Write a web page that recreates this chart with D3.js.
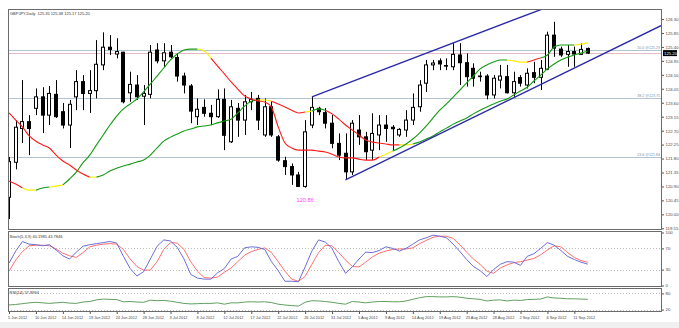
<!DOCTYPE html>
<html>
<head>
<meta charset="utf-8">
<script src="https://cdn.jsdelivr.net/npm/d3@7"></script>
<style>
html,body{margin:0;padding:0;background:#ffffff;}
svg{display:block;font-family:"Liberation Sans",Arial,sans-serif;}
</style>
</head>
<body>
<svg id="chart" width="679" height="328"></svg>
<script>
// GBPJPY daily candles, 5 Jun 2012 .. 13 Sep 2012 (Sun-Fri sessions)
const opens = [120.55,121.68,122.77,122.99,123.42,123.79,123.20,123.87,123.31,122.88,
  123.79,124.28,123.90,123.99,124.82,125.39,125.17,125.23,123.92,124.17,
  123.81,123.87,125.30,124.95,125.23,125.06,124.46,124.14,123.15,123.45,
  123.26,123.15,123.71,122.34,123.42,123.04,123.63,123.74,122.56,123.47,
  122.50,121.73,121.54,121.27,120.90,122.88,123.42,123.28,122.94,122.29,
  121.97,121.37,122.72,122.50,122.07,122.56,122.88,122.81,122.56,122.72,
  123.04,123.47,124.23,124.82,124.95,124.80,124.76,125.14,124.89,124.71,
  124.46,124.46,123.85,124.33,124.44,123.92,124.41,124.17,124.57,124.42,
  124.68,125.78,125.33,125.16,125.25,125.16,125.35];
const highs = [121.85,123.04,124.33,123.20,124.06,124.10,124.14,124.33,123.59,123.69,
  124.65,124.49,124.65,125.62,125.87,125.78,125.68,125.24,124.60,124.49,
  124.17,125.46,125.52,125.52,125.46,125.19,124.57,124.20,123.74,123.71,
  123.53,124.03,124.06,123.69,123.59,123.85,123.95,123.85,123.74,123.65,
  122.56,121.86,121.64,121.37,123.04,123.79,123.47,123.43,123.20,122.61,
  122.61,123.04,123.20,122.66,123.26,123.20,123.20,122.88,122.78,123.36,
  123.90,124.33,124.98,124.98,125.03,125.03,125.52,125.52,125.19,124.87,
  124.60,124.52,124.49,124.82,124.82,124.60,124.49,124.71,124.92,124.98,
  125.89,126.21,125.41,125.46,125.41,125.52,125.38];
const lows = [119.85,121.45,122.30,121.91,123.20,122.62,122.88,123.11,122.77,122.14,
  123.36,123.36,123.27,123.74,124.65,125.14,125.03,123.58,123.63,123.69,
  122.88,123.74,124.87,124.76,125.03,124.28,123.90,122.94,122.88,123.15,
  122.88,123.11,122.07,122.30,122.50,122.56,123.36,122.72,122.50,122.50,
  121.70,121.27,120.95,120.88,120.86,122.78,123.20,122.77,122.13,121.75,
  121.11,121.27,122.24,121.75,121.75,122.07,122.34,122.07,122.50,122.50,
  122.88,123.31,123.95,124.65,124.65,124.65,124.65,124.17,124.12,124.12,
  124.28,123.71,123.74,124.06,123.90,123.79,124.12,124.06,124.23,124.01,
  124.65,125.08,125.08,124.76,124.76,125.14,125.17];
const closes = [121.70,122.81,122.99,122.77,123.79,123.20,123.90,123.15,122.88,123.55,
  124.28,123.90,123.99,124.84,125.39,125.32,125.25,123.63,124.19,123.79,
  123.90,125.23,124.95,125.21,125.08,124.46,124.17,123.33,123.39,123.26,
  123.15,123.71,122.55,123.47,123.04,123.63,123.71,123.04,123.47,122.56,
  121.75,121.54,121.27,120.90,122.66,123.45,123.31,122.94,122.29,121.91,
  121.37,122.94,122.50,122.02,122.61,122.88,122.77,122.76,122.74,123.04,
  123.45,124.17,124.82,124.88,124.85,124.78,125.16,124.89,124.44,124.39,
  124.44,123.85,124.39,124.46,123.92,124.28,124.23,124.55,124.42,124.71,
  125.78,125.36,125.14,125.25,125.17,125.32,125.20];

// fast and slow trend averages, with their state per bar (r = falling, y = flat, g = rising)
const fastMA = [121.07,120.98,120.85,120.78,120.78,120.85,120.88,120.91,120.95,121.14,
  121.36,121.67,121.91,122.24,122.56,122.88,123.17,123.40,123.56,123.72,
  123.95,124.20,124.46,124.72,124.98,125.17,125.30,125.33,125.33,125.27,
  125.04,124.78,124.53,124.27,124.04,123.82,123.72,123.66,123.62,123.45,
  122.82,122.30,122.14,122.07,122.07,122.07,122.04,122.01,121.94,121.85,
  121.82,121.82,121.78,121.75,121.75,121.85,121.94,122.04,122.14,122.27,
  122.43,122.62,122.85,123.11,123.36,123.56,123.78,124.01,124.24,124.46,
  124.69,124.82,124.91,124.98,124.98,124.95,124.91,124.91,124.98,125.04,
  125.14,125.40,125.46,125.46,125.46,125.49,125.53];
const fastState = "rrryyggyyggggggggggggggggggggyyrrrrrrrrrrrrrrrrrrrrrrrrryygggggggggggggggggyyyrrgggggyygg";
const slowMA = [123.27,123.04,122.82,122.53,122.36,122.24,122.14,121.91,121.72,121.59,
  121.43,121.30,121.20,121.20,121.27,121.40,121.49,121.56,121.62,121.69,
  121.75,121.91,122.14,122.36,122.49,122.59,122.69,122.75,122.82,122.85,
  122.88,122.95,123.01,123.07,123.27,123.49,123.65,123.69,123.69,123.65,
  123.56,123.46,123.36,123.27,123.30,123.33,123.40,123.36,123.24,123.07,
  122.88,122.72,122.56,122.40,122.33,122.30,122.27,122.24,122.24,122.24,
  122.27,122.33,122.43,122.53,122.66,122.78,122.91,123.01,123.11,123.24,
  123.36,123.46,123.56,123.65,123.72,123.85,123.98,124.10,124.30,124.49,
  124.69,124.85,124.98,125.07,125.14,125.20,125.27];
const slowState = "rrrrrrrrrrrrryggggggggggggggggggggggggyyrrrrryggrrrrrrrrrrryyggggggggggggggggggggggggggg";

// Stochastic (5,3,3) main / signal and RSI(14)
const stochMain = [42,65,83,78,77,75,77,67,56,50,63,74,77,79,81,83,80,55,32,18,
  26,50,74,86,84,72,50,21,14,12,12,24,32,50,55,71,73,72,68,45,
  28,8,8,7,35,65,86,82,70,45,23,35,50,63,62,66,73,70,65,70,
  78,86,90,95,93,90,78,64,49,36,28,17,30,40,45,44,38,55,60,70,
  81,76,66,55,49,44,40.2];
const stochSignal = [27,48,64,75,76,76,75,69,61,56,53,62,73,76,78,79,78,68,50,36,
  29,29,45,68,81,80,68,45,27,15,14,16,25,33,45,57,64,68,71,62,
  45,27,12,8,17,40,62,76,75,62,48,36,35,44,54,61,65,68,69,69,
  71,79,85,91,93,93,89,77,63,50,40,27,23,33,39,43,45,48,51,58,
  67,75,73,62,53,47,43.8];
const rsi = [37,39,42,45,47,45,43,45,47,44,43,48,50,56,59,58,57,49,50,48,
  47,55,53,54,51,47,43,41,42,43,43,45,40,45,45,48,49,48,49,46,
  40,37,35,33,47,53,52,50,47,43,40,50,48,45,48,50,50,49,49,52,
  58,64,68,68,67,67,68,66,62,60,58,52,55,56,52,55,54,57,58,59,
  67,63,62,60,60,59,57.9];

// trendlines (bar index, price) and fibonacci levels
const lowerTrend = [{bar:50, price:121.11}, {bar:86, price:124.93}];
const upperTrend = [{bar:45, price:123.79}, {bar:86, price:127.18}];
const fibLevels = [{label:"50.0 @125.29", price:125.29},{label:"38.2 @123.75", price:123.75},{label:"23.6 @121.84", price:121.84}];
const lastPrice = 125.20;
const lowMark = {bar:44, price:120.86, label:"120.86"};

const priceTicks = [126.30,125.85,125.40,124.95,124.50,124.05,123.60,123.15,122.70,122.25,121.80,121.35,120.90,120.45,120.00,119.55];
const dateLabels = ["5 Jun 2012","10 Jun 2012","14 Jun 2012","19 Jun 2012","24 Jun 2012","28 Jun 2012",
  "3 Jul 2012","8 Jul 2012","12 Jul 2012","17 Jul 2012","22 Jul 2012","26 Jul 2012","31 Jul 2012",
  "5 Aug 2012","9 Aug 2012","14 Aug 2012","19 Aug 2012","23 Aug 2012","28 Aug 2012","2 Sep 2012",
  "6 Sep 2012","11 Sep 2012"];
const dateStep = 4;
const stochLevels = [70,30];
const stochTicks = [100,70,30,0];
const rsiLevels = [80,20];

const header = "GBPJPY,Daily  125.35 125.38 125.17 125.20";
const stochTitle = "Stoch(5,3,3) 40.1985 43.7846";
const rsiTitle = "RSI(14) 57.8994";

// ---- layout ----
const L = 8, R = 662;
const mainP = {top:9, bot:230};
const stP = {top:231, bot:287};
const rsiP = {top:288, bot:312};
const smallFont = 4.0;

const svg = d3.select("#chart");
const n = closes.length;

const x = d3.scaleLinear().domain([0, n-1]).range([9, 587.8]);
const y = d3.scaleLinear().domain([119.55, 126.30]).range([228.3, 19]);
const yS = d3.scaleLinear().domain([0, 100]).range([285.5, 232.5]);
const yR = d3.scaleLinear().domain([0, 100]).range([315, 288]);

svg.append("rect").attr("width",679).attr("height",328).attr("fill","#ffffff");
svg.append("rect").attr("x",0).attr("y",322).attr("width",679).attr("height",6).attr("fill","#f0f0f0");

const defs = svg.append("defs");
function clip(id, p){
  defs.append("clipPath").attr("id",id).append("rect")
    .attr("x",L).attr("y",p.top).attr("width",R-L).attr("height",p.bot-p.top);
}
clip("cMain", mainP); clip("cSt", stP); clip("cRsi", rsiP);

const gMain = svg.append("g").attr("clip-path","url(#cMain)");
const gSt = svg.append("g").attr("clip-path","url(#cSt)");
const gRsi = svg.append("g").attr("clip-path","url(#cRsi)");

// horizontal reference lines
gMain.selectAll("line.fib").data(fibLevels).join("line")
  .attr("x1",L).attr("x2",R)
  .attr("y1",d=>Math.round(y(d.price))+0.5).attr("y2",d=>Math.round(y(d.price))+0.5)
  .attr("stroke","#b3c3d3").attr("stroke-width",1);
gMain.append("line").attr("x1",L).attr("x2",R)
  .attr("y1",Math.round(y(lastPrice))+0.5).attr("y2",Math.round(y(lastPrice))+0.5)
  .attr("stroke","#e6b8c8").attr("stroke-width",1);
gMain.selectAll("text.fib").data(fibLevels).join("text")
  .attr("x",R-2).attr("y",d=>y(d.price)-1.2).attr("text-anchor","end")
  .attr("font-size",3.6).attr("fill","#7d8fa6").text(d=>d.label);

// candles
const cx = i => Math.round(x(i));
const candles = gMain.append("g");
d3.range(n).forEach(i=>{
  const up = closes[i] >= opens[i];
  const px = cx(i);
  candles.append("line").attr("x1",px+0.5).attr("x2",px+0.5)
    .attr("y1",y(highs[i])).attr("y2",y(lows[i])).attr("stroke","#000").attr("stroke-width",1);
  const top = y(Math.max(opens[i],closes[i])), bot = y(Math.min(opens[i],closes[i]));
  candles.append("rect").attr("x",px-1.5).attr("y",top).attr("width",3)
    .attr("height",Math.max(bot-top,0.6))
    .attr("fill",up?"#ffffff":"#000000").attr("stroke","#000").attr("stroke-width",1);
});

// colored averages: draw runs of equal state
const stateColor = {r:"#ff1a1a", y:"#ffee00", g:"#139a13"};
function drawColored(g, vals, states){
  let i = 1;
  while(i < vals.length){
    const s = states[i];
    let j = i;
    while(j+1 < vals.length && states[j+1] === s) j++;
    const pts = d3.range(i-1, j+1).map(k=>[x(k), y(vals[k])]);
    g.append("path").attr("d", d3.line().curve(d3.curveMonotoneX)(pts))
      .attr("fill","none").attr("stroke",stateColor[s]).attr("stroke-width",1.1);
    i = j+1;
  }
}
drawColored(gMain, slowMA, slowState);
drawColored(gMain, fastMA, fastState);

// trendlines extended to the right edge
function trend(g, t){
  const slope = (t[1].price - t[0].price)/(t[1].bar - t[0].bar);
  const endBar = x.invert(R);
  const endPrice = t[0].price + slope*(endBar - t[0].bar);
  g.append("line").attr("x1",x(t[0].bar)).attr("y1",y(t[0].price))
    .attr("x2",x(endBar)).attr("y2",y(endPrice))
    .attr("stroke","#2a2aa6").attr("stroke-width",1.4);
}
trend(gMain, lowerTrend);
trend(gMain, upperTrend);

// low annotation
gMain.append("text").attr("x",x(lowMark.bar)).attr("y",y(lowMark.price)+14)
  .attr("text-anchor","middle").attr("font-size",5.6).attr("fill","#ff44ff").text(lowMark.label);

// header
svg.append("text").attr("x",10).attr("y",14.5).attr("font-size",smallFont).attr("fill","#333")
  .attr("xml:space","preserve").text(header);

// stochastic
gSt.selectAll("line.lv").data(stochLevels).join("line")
  .attr("x1",L).attr("x2",R).attr("y1",d=>Math.round(yS(d))+0.5).attr("y2",d=>Math.round(yS(d))+0.5)
  .attr("stroke","#bdbdbd").attr("stroke-dasharray","1,2");
const lineS = d3.line().x((d,i)=>x(i)).y(d=>yS(d));
gSt.append("path").attr("d",lineS(stochSignal)).attr("fill","none").attr("stroke","#ff6f6f").attr("stroke-width",1);
gSt.append("path").attr("d",lineS(stochMain)).attr("fill","none").attr("stroke","#6e6ed8").attr("stroke-width",1);
svg.append("text").attr("x",9.5).attr("y",237.5).attr("font-size",smallFont).attr("fill","#333").text(stochTitle);

// RSI
gRsi.selectAll("line.lv").data(rsiLevels).join("line")
  .attr("x1",L).attr("x2",R).attr("y1",d=>Math.round(yR(d))+0.5).attr("y2",d=>Math.round(yR(d))+0.5)
  .attr("stroke","#bdbdbd").attr("stroke-dasharray","1,2");
const lineR = d3.line().x((d,i)=>x(i)).y(d=>yR(d));
gRsi.append("path").attr("d",lineR(rsi)).attr("fill","none").attr("stroke","#5f9f5f").attr("stroke-width",1);
svg.append("text").attr("x",9.5).attr("y",293.5).attr("font-size",smallFont).attr("fill","#333").text(rsiTitle);

// panel frames
[mainP, stP, rsiP].forEach(p=>{
  svg.append("rect").attr("x",L+0.5).attr("y",p.top+0.5).attr("width",R-L-1).attr("height",p.bot-p.top-1)
    .attr("fill","none").attr("stroke","#6b6b6b").attr("stroke-width",1);
});

// axes
function styleAxis(g, fs){
  g.select(".domain").remove();
  g.selectAll(".tick line").attr("stroke","#555");
  g.selectAll(".tick text").attr("font-size",fs).attr("fill","#444").attr("font-family","Liberation Sans, Arial, sans-serif");
}
const axP = svg.append("g").attr("transform",`translate(${R},0)`)
  .call(d3.axisRight(y).tickValues(priceTicks).tickSize(2).tickPadding(1.5).tickFormat(d3.format(".2f")));
styleAxis(axP, 4.3);
const axS = svg.append("g").attr("transform",`translate(${R},0)`)
  .call(d3.axisRight(yS).tickValues(stochTicks).tickSize(2).tickPadding(1.5));
styleAxis(axS, 4.3);
const axR = svg.append("g").attr("transform",`translate(${R},0)`)
  .call(d3.axisRight(yR).tickValues(rsiLevels).tickSize(2).tickPadding(1.5));
styleAxis(axR, 4.3);

// current price tag
const tagY = y(lastPrice);
svg.append("rect").attr("x",R+1).attr("y",tagY-3).attr("width",14).attr("height",6).attr("fill","#000");
svg.append("text").attr("x",R+2).attr("y",tagY+1.6).attr("font-size",4.3).attr("fill","#fff").text(lastPrice.toFixed(2));

// date axis
const dateTicks = dateLabels.map((d,k)=>k*dateStep);
const axD = svg.append("g").attr("transform",`translate(0,${rsiP.bot})`)
  .call(d3.axisBottom(x).tickValues(dateTicks).tickSize(2).tickPadding(2)
    .tickFormat((d,k)=>dateLabels[k]));
styleAxis(axD, 3.9);
axD.selectAll(".tick text").attr("text-anchor","start").attr("dx",-1.5);
</script>
</body>
</html>
